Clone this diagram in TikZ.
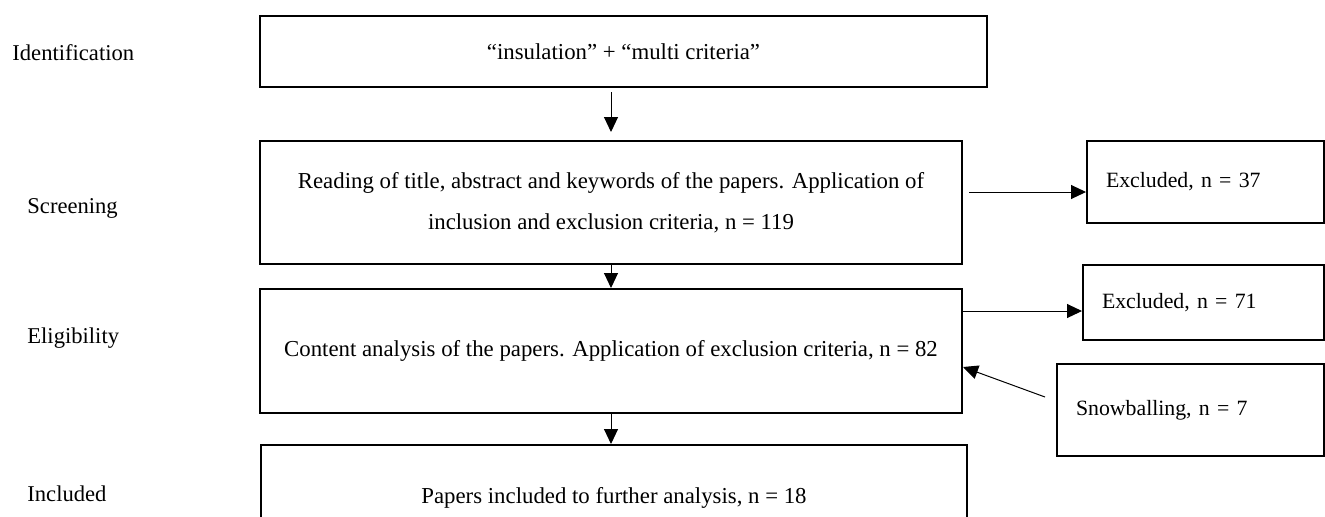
\documentclass[tikz,border=0pt]{standalone}
\usepackage{fontspec}
\setmainfont{Liberation Serif}
\usetikzlibrary{arrows.meta, calc}

\begin{document}
\begin{tikzpicture}[x=0.5pt, y=-0.5pt, >={Triangle[length=7.5pt, width=7pt]},
    box/.style={draw, line width=1pt, inner sep=0pt, align=center, font=\fontsize{11.4}{20.5}\selectfont},
    sidebox/.style={box, align=left, inner xsep=9.5pt, font=\fontsize{10.9}{13}\selectfont},
    stage/.style={anchor=base west, inner sep=0pt, font=\fontsize{11.3}{12}\selectfont},
    arr/.style={->, line width=0.5pt}]

    \clip (0,0) rectangle (1325,516);

    % Stage labels
    \node[stage] (lid) at (12,60) {Identification};
    \node[stage] (lscr) at (27,213) {Screening};
    \node[stage] (lelig) at (27,343) {Eligibility};
    \node[stage] (linc) at (27,501) {Included};

    % Main boxes
    \node[box, minimum width=363.5pt, minimum height=35.5pt] (ident) at (623.5,51.5) {“insulation” + “multi criteria”};
    \node[box, minimum width=351pt, minimum height=61.5pt] (scr) at (611,202.5) {Reading of title, abstract and keywords of the papers. Application of\\ inclusion and exclusion criteria, n = 119};
    \node[box, minimum width=351pt, minimum height=62pt] (elig) at (611,351) {Content analysis of the papers. Application of exclusion criteria, n = 82};
    \node[box, minimum width=353pt, minimum height=52.5pt] (incl) at (614,497.5) {Papers included to further analysis, n = 18};

    % Side boxes
    \node[sidebox, text width=99.5pt, minimum height=41pt] (ex1) at (1205.5,182) {Excluded, n = 37};
    \node[sidebox, text width=101.5pt, minimum height=37.5pt] (ex2) at (1203.5,302.5) {Excluded, n = 71};
    \node[sidebox, text width=114.5pt, minimum height=46pt] (snow) at (1190.5,410) {Snowballing, n = 7};

    % Flow down
    \draw[arr, shorten <=2pt, shorten >=4pt] (ident.south -| scr.north) -- (scr.north);
    \draw[arr] (scr) -- (elig);
    \draw[arr] (elig.south) -- (elig.south |- incl.north);

    % Side arrows
    \draw[arr] ($(scr.east)+(6,-10.5)$) -- ($(ex1.west)+(0,10)$);
    \draw[arr] ($(elig.east)+(0,-40)$) -- ($(ex2.west)+(0,8.5)$);
    \draw[arr] ($(snow.west)+(-11,-13)$) -- ($(elig.east)+(0,16)$);
\end{tikzpicture}
\end{document}
